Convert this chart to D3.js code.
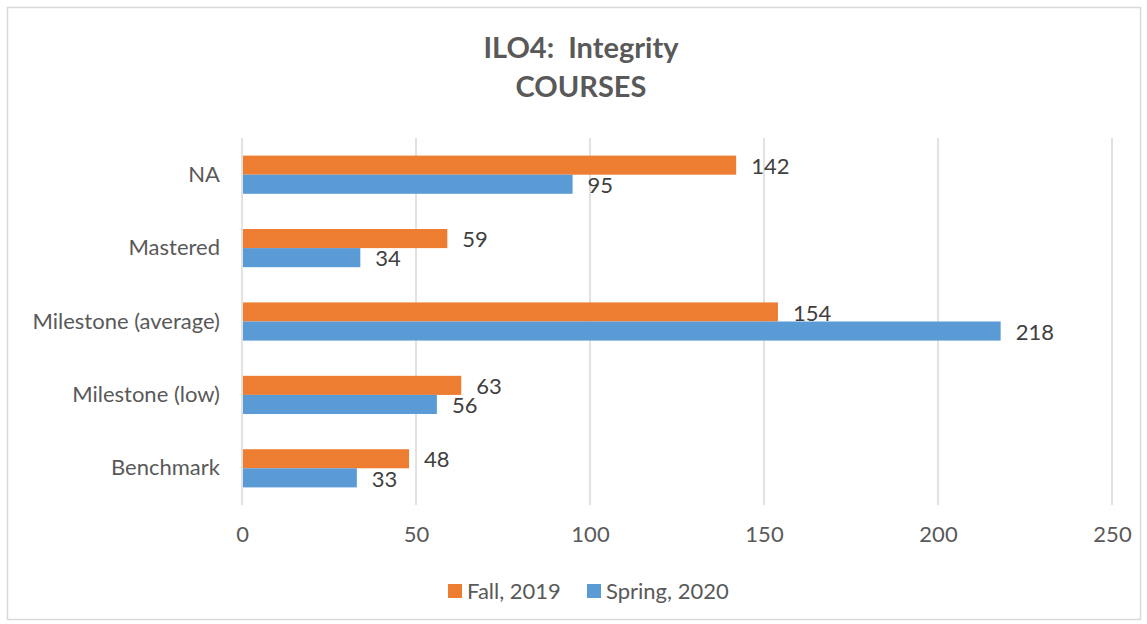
<!DOCTYPE html>
<html>
<head>
<meta charset="utf-8">
<script src="https://cdn.jsdelivr.net/npm/d3@7"></script>
<style>
  body { margin: 0; background: #fff; }
  svg { display: block; font-family: Lato, "Open Sans", sans-serif; }
</style>
</head>
<body>
<div id="chart"></div>
<script>
// ---------- data
const categories = ["NA", "Mastered", "Milestone (average)", "Milestone (low)", "Benchmark"]
const seriesNames = ["Fall, 2019", "Spring, 2020"]
const fallValues = [142, 59, 154, 63, 48]
const springValues = [95, 34, 218, 56, 33]
const xTicks = [0, 50, 100, 150, 200, 250]
const titleLines = ["ILO4:  Integrity", "COURSES"]

const colors = ["#ED7D31", "#5B9BD5"]
const fontSize = 22

// ---------- dimensions
const dims = {
    width: 1147,
    height: 624,
    margin: { top: 138, right: 35, bottom: 119, left: 242 }
}
dims.boundedWidth = dims.width - dims.margin.left - dims.margin.right
dims.boundedHeight = dims.height - dims.margin.top - dims.margin.bottom

const wrapper = d3.select("#chart")
    .append("svg")
    .attr("width", dims.width)
    .attr("height", dims.height)

// outer frame
wrapper.append("rect")
    .attr("x", 7.5).attr("y", 7.5)
    .attr("width", dims.width - 14).attr("height", dims.height - 12)
    .attr("fill", "#fff")
    .attr("stroke", "#D9D9D9")
    .attr("stroke-width", 1.5)

const bounds = wrapper.append("g")
    .attr("transform", `translate(${dims.margin.left},${dims.margin.top})`)

// ---------- scales
const xScale = d3.scaleLinear()
    .domain([0, 250])
    .range([0, dims.boundedWidth])

const yScale = d3.scaleBand()
    .domain(categories)
    .range([0, dims.boundedHeight])
    .paddingInner(0.48)
    .paddingOuter(0.24)

const subScale = d3.scaleBand()
    .domain(seriesNames)
    .range([0, yScale.bandwidth()])

// ---------- gridlines
bounds.append("g")
    .selectAll("line")
    .data(xTicks)
    .join("line")
    .attr("x1", d => xScale(d))
    .attr("x2", d => xScale(d))
    .attr("y1", 0)
    .attr("y2", dims.boundedHeight)
    .attr("stroke", "#D9D9D9")
    .attr("stroke-width", 1.5)

// ---------- axes
const xAxisGenerator = d3.axisBottom(xScale)
    .tickValues(xTicks)
    .tickSize(0)
    .tickPadding(21)

const xAxis = bounds.append("g")
    .attr("transform", `translate(0,${dims.boundedHeight})`)
    .call(xAxisGenerator)
xAxis.select(".domain").remove()
xAxis.selectAll("text")
    .attr("font-family", "Lato, sans-serif")
    .attr("font-size", fontSize)
    .attr("fill", "#595959")

const yAxisGenerator = d3.axisLeft(yScale)
    .tickSize(0)
    .tickPadding(22)

const yAxis = bounds.append("g")
    .call(yAxisGenerator)
yAxis.select(".domain").remove()
yAxis.selectAll("text")
    .attr("font-family", "Lato, sans-serif")
    .attr("font-size", fontSize)
    .attr("fill", "#595959")

// ---------- bars
const rows = categories.map((c, i) => ({
    category: c,
    values: [
        { series: seriesNames[0], value: fallValues[i] },
        { series: seriesNames[1], value: springValues[i] }
    ]
}))

const groups = bounds.selectAll(".group")
    .data(rows)
    .join("g")
    .attr("class", "group")
    .attr("transform", d => `translate(0,${yScale(d.category)})`)

groups.selectAll("rect")
    .data(d => d.values)
    .join("rect")
    .attr("x", xScale(0) + 1)
    .attr("y", d => subScale(d.series))
    .attr("width", d => xScale(d.value) - xScale(0) - 1)
    .attr("height", subScale.bandwidth())
    .attr("fill", (d, i) => colors[i])

groups.selectAll(".label")
    .data(d => d.values)
    .join("text")
    .attr("class", "label")
    .attr("x", d => xScale(d.value) + 15)
    .attr("y", d => subScale(d.series) + subScale.bandwidth() / 2 + 1)
    .attr("dy", "0.35em")
    .attr("font-size", fontSize)
    .attr("fill", "#404040")
    .text(d => d.value)

// ---------- title
wrapper.append("text")
    .attr("x", 581)
    .attr("y", 0)
    .attr("text-anchor", "middle")
    .attr("font-size", 29)
    .attr("font-weight", "bold")
    .attr("fill", "#595959")
    .selectAll("tspan")
    .data(titleLines)
    .join("tspan")
    .attr("x", 581)
    .attr("y", (d, i) => 58 + i * 39)
    .attr("xml:space", "preserve")
    .style("white-space", "pre")
    .text(d => d)

// ---------- legend
const legendItems = [
    { name: seriesNames[0], x: 448 },
    { name: seriesNames[1], x: 587 }
]
const legend = wrapper.append("g")
    .selectAll("g")
    .data(legendItems)
    .join("g")
    .attr("transform", d => `translate(${d.x},584)`)

legend.append("rect")
    .attr("width", 14)
    .attr("height", 14)
    .attr("fill", (d, i) => colors[i])

legend.append("text")
    .attr("x", 19)
    .attr("y", 7)
    .attr("dy", "0.35em")
    .attr("font-size", fontSize)
    .attr("fill", "#595959")
    .text(d => d.name)
</script>
</body>
</html>
